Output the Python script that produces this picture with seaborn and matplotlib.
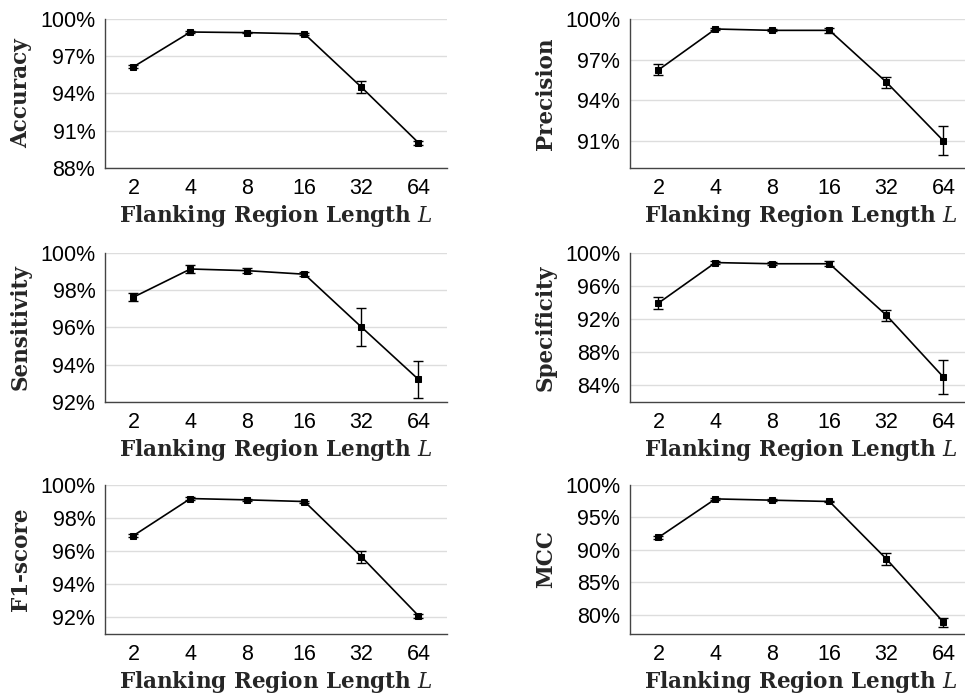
import numpy as np
import pandas as pd
import matplotlib
matplotlib.use("Agg")
import matplotlib.pyplot as plt
import seaborn as sns

# flanking region lengths
lengths = ["2", "4", "8", "16", "32", "64"]

accuracy = [96.15, 98.95, 98.9, 98.8, 94.5, 90.03]
accuracy_err = [0.12, 0.08, 0.06, 0.06, 0.47, 0.15]

precision = [96.24, 99.26, 99.16, 99.16, 95.33, 91.0]
precision_err = [0.4, 0.08, 0.08, 0.2, 0.4, 1.07]

sensitivity = [97.63, 99.14, 99.05, 98.86, 96.02, 93.21]
sensitivity_err = [0.2, 0.22, 0.12, 0.12, 1.04, 1.0]

specificity = [93.95, 98.84, 98.7, 98.7, 92.47, 85.0]
specificity_err = [0.73, 0.15, 0.15, 0.3, 0.7, 2.05]

f1_score = [96.94, 99.18, 99.1, 99.0, 95.66, 92.1]
f1_score_err = [0.1, 0.08, 0.06, 0.06, 0.38, 0.12]

mcc = [91.9, 97.85, 97.65, 97.45, 88.57, 78.82]
mcc_err = [0.3, 0.15, 0.12, 0.15, 0.97, 0.7]

panels = [
    ("Accuracy", accuracy, accuracy_err, (88, 100), [88, 91, 94, 97, 100]),
    ("Precision", precision, precision_err, (89, 100), [91, 94, 97, 100]),
    ("Sensitivity", sensitivity, sensitivity_err, (92, 100), [92, 94, 96, 98, 100]),
    ("Specificity", specificity, specificity_err, (82, 100), [84, 88, 92, 96, 100]),
    ("F1-score", f1_score, f1_score_err, (91, 100), [92, 94, 96, 98, 100]),
    ("MCC", mcc, mcc_err, (77, 100), [80, 85, 90, 95, 100]),
]

sns.set_style("whitegrid")
plt.rcParams['font.family'] = ['Liberation Sans', 'DejaVu Sans']
plt.rcParams['mathtext.fontset'] = 'dejavuserif'

fig = plt.figure(figsize=(9.65, 6.95), dpi=100)

lefts = [0.1088, 0.6528]
bottoms = [0.7583, 0.4216, 0.0878]
w, h = 0.3544, 0.2144

spine_col = "#444444"
grid_col = "#dddddd"

for i, (name, vals, errs, ylim, yticks) in enumerate(panels):
    ax = fig.add_axes([lefts[i % 2], bottoms[i // 2], w, h])
    df = pd.DataFrame({"pos": np.arange(len(lengths)), "value": vals, "err": errs})
    ax.errorbar(df["pos"], df["value"], yerr=df["err"], fmt="none",
                ecolor="black", elinewidth=1.0, capsize=3.5, capthick=1.0, zorder=3)
    sns.lineplot(data=df, x="pos", y="value", ax=ax, color="black", linewidth=1.2,
                 marker="s", markersize=4.5, markeredgecolor="black", zorder=4)
    ax.set_xlim(-0.5, 5.5)
    ax.set_ylim(*ylim)
    ax.set_yticks(yticks)
    ax.set_yticklabels([f"{t}%" for t in yticks])
    ax.set_xticks(df["pos"])
    ax.set_xticklabels(lengths)
    ax.grid(False, axis="x")
    ax.grid(True, axis="y", color=grid_col, linewidth=1.0)
    for s in ["top", "right"]:
        ax.spines[s].set_visible(False)
    for s in ["left", "bottom"]:
        ax.spines[s].set_color(spine_col)
        ax.spines[s].set_linewidth(1.0)
    ax.tick_params(axis="both", which="major", labelsize=15.5, colors="black",
                   length=4, width=1.0, direction="out", color=spine_col, pad=3)
    ax.set_xlabel("Flanking Region Length $L$", family="DejaVu Serif",
                  fontweight="bold", fontsize=15.5, labelpad=3)
    ax.set_ylabel(name, family="DejaVu Serif", fontweight="bold", fontsize=15.5, labelpad=6)

fig.savefig("out.png", dpi=100, facecolor="white")
